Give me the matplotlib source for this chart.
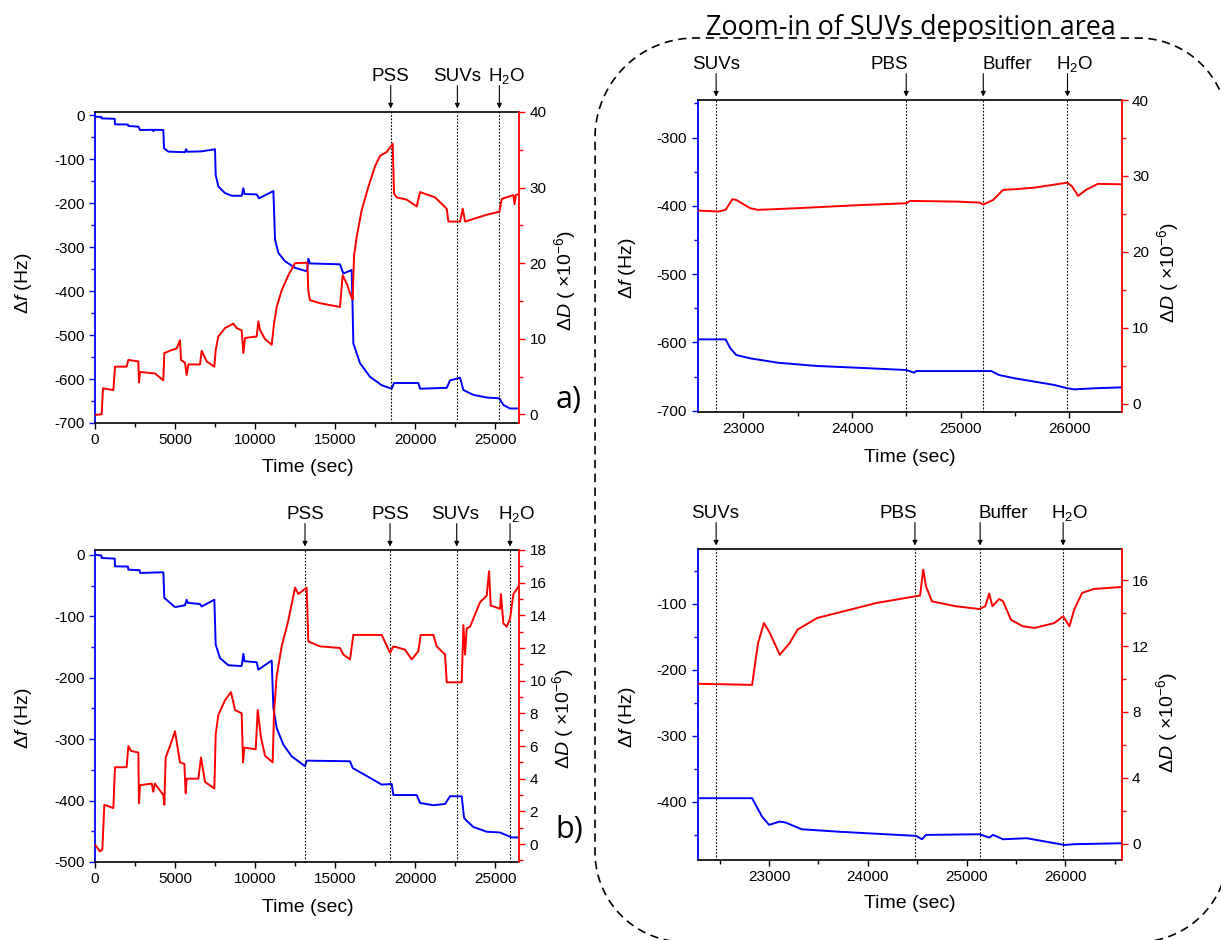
import numpy as np
import matplotlib.pyplot as plt
from matplotlib.ticker import MultipleLocator

plt.rcParams['font.family'] = ['Liberation Sans', 'DejaVu Sans']
plt.rcParams['mathtext.fontset'] = 'custom'
plt.rcParams['mathtext.rm'] = 'Liberation Sans'
plt.rcParams['mathtext.it'] = 'Liberation Sans:italic'
plt.rcParams['axes.unicode_minus'] = False

BLUE = '#0000ff'
RED = '#ff0000'

# ---- panel a) : full run, frequency (Hz) and dissipation (x1e-6)
a_t_f = [0, 400, 420, 1230, 1250, 2060, 2082, 2707, 2811, 3600, 3650, 3700, 4268, 4310, 4580,
         5620, 5690, 5760, 6662, 7495, 7537, 7703, 8120, 8536, 9160, 9265, 9330, 10098, 10240,
         11139, 11180, 11243, 11451, 11867, 12492, 13242, 13322, 13420, 15300, 15509, 16029,
         16080, 16133, 16550, 17174, 17903, 18528, 18673, 20193, 20297, 21963, 22171, 22796,
         23004, 23628, 24461, 25252, 25502, 25918, 26543]
a_f = [-3, -4, -7, -8, -20.5, -21, -24.3, -25.8, -33.4, -33, -36, -33, -33.4, -75, -82.6,
       -84, -77, -83, -82, -77.3, -135.6, -162, -177, -183, -183, -166, -179, -180, -189,
       -172.4, -215, -283, -313, -332, -347, -355, -326, -337, -339, -360, -352,
       -428, -519, -564, -595, -614, -622, -609, -609, -622, -620, -603, -597,
       -625, -636, -642, -644, -659, -667, -667]
a_t_d = [0, 416, 500, 1145, 1250, 1978, 2082, 2707, 2748, 2811, 3748, 4268, 4330, 4789, 5100,
         5309, 5370, 5621, 5725, 5830, 6558, 6662, 6975, 7453, 7537, 7703, 8120, 8640, 8850,
         9160, 9265, 9370, 10098, 10202, 10300, 10600, 11035, 11180, 11347, 11659, 12076,
         12492, 13260, 13322, 13420, 14051, 15300, 15467, 15717, 16029, 16092, 16175, 16342,
         16654, 17070, 17487, 17800, 18215, 18590, 18673, 18840, 19464, 20089, 20297, 21234,
         21963, 22067, 22796, 22962, 23108, 24461, 25252, 25398, 26127, 26200, 26280, 26543]
a_d = [-0.09, 0, 3.44, 3.2, 6.3, 6.3, 7.2, 7.0, 4.2, 5.6, 5.4, 4.5, 8.1, 8.5, 8.7,
       9.8, 7.2, 6.8, 5.2, 6.6, 6.6, 8.4, 7.0, 6.3, 8.5, 10.3, 11.4, 12.0, 11.4,
       11.1, 8.1, 10.1, 10.3, 12.3, 11.2, 10.0, 9.2, 12.0, 14.2, 16.4, 18.4,
       20.0, 20.05, 16.3, 15.1, 14.7, 14.2, 18.4, 17.3, 15.4, 15.2, 20.9, 23.5,
       27.0, 30.1, 32.8, 34.2, 34.7, 35.8, 29.2, 28.7, 28.4, 27.5, 29.4, 28.7,
       27.2, 25.5, 25.5, 27.2, 25.5, 26.4, 26.8, 28.5, 29.0, 27.8, 29.0, 29.2]
a_events = [18465, 22629, 25252]
a_labels = ['PSS', 'SUVs', 'H$_2$O']

# ---- panel b)
b_t_f = [0, 400, 416, 1230, 1250, 2060, 2082, 2790, 2811, 4268, 4330, 4997, 5621, 5725, 5790,
         6558, 6662, 7453, 7537, 7807, 8328, 9160, 9265, 9330, 10098, 10202, 11035, 11139,
         11347, 11763, 12284, 13114, 13218, 15925, 16092, 16966, 17903, 18528, 18632, 20089,
         20297, 21130, 21859, 22171, 22900, 23046, 23212, 23628, 24461, 25294, 26023, 26543]
b_f = [0.4, -1, -5, -6, -18.6, -19, -24, -25, -29.4, -28.3, -70, -85, -82, -73, -78,
       -80, -84, -73, -146, -168, -179.7, -181, -161, -173, -174.8, -186.8, -172, -249,
       -282, -309, -328, -344, -335, -336, -347, -360, -374, -373, -391, -391,
       -403.9, -407.6, -405.5, -393, -393, -428, -433, -443, -450.7, -452, -460, -460]
b_t_d = [0, 312, 458, 583, 1145, 1250, 1978, 2082, 2249, 2707, 2748, 2811, 3539, 3640, 3740,
         4268, 4330, 4414, 4685, 4997, 5309, 5580, 5663, 5725, 6454, 6621, 6871, 7453, 7537,
         7703, 8120, 8494, 8744, 9160, 9244, 9330, 10035, 10160, 10368, 10618, 11097, 11180,
         11347, 11659, 12076, 12492, 12700, 13218, 13322, 14051, 15300, 15509, 15925, 16133,
         17903, 18424, 18632, 19360, 19776, 20193, 20339, 21130, 21338, 21859, 21963, 22900,
         23004, 23108, 23212, 23420, 24045, 24461, 24607, 24711, 25294, 25350, 25502, 25710,
         25918, 26127, 26543]
b_d = [-0.04, -0.45, -0.35, 2.4, 2.2, 4.7, 4.7, 6.0, 5.7, 5.6, 2.5, 3.6, 3.7, 3.2, 3.7,
       3.0, 2.4, 5.3, 6.0, 6.9, 5.0, 4.9, 3.1, 4.0, 4.0, 5.3, 3.8, 3.4, 6.7,
       7.9, 8.8, 9.3, 8.2, 8.0, 5.0, 5.9, 5.8, 8.2, 6.5, 5.4, 5.0, 8.1,
       10.3, 12.1, 13.7, 15.7, 15.3, 15.7, 12.4, 12.1, 12.0, 11.6, 11.3, 12.8,
       12.8, 11.7, 12.1, 11.9, 11.3, 11.8, 12.8, 12.8, 12.1, 11.6, 9.9, 9.9,
       13.4, 11.6, 13.2, 13.3, 14.8, 15.2, 16.7, 14.6, 14.4, 15.3, 13.5, 13.3,
       13.8, 15.3, 15.9]
b_events = [13114, 18424, 22587, 25918]
b_labels = ['PSS', 'PSS', 'SUVs', 'H$_2$O']

# ---- panel c) : zoom of a)
c_t_f = [22578, 22836, 22880, 22934, 23062, 23316, 23680, 24043, 24498, 24571, 24589, 25280,
         25352, 25498, 25861, 25981, 26043, 26225, 26480]
c_f = [-595.6, -595.6, -608.8, -618.5, -623.4, -629.8, -634.6, -637.1, -640.5, -644.4, -642,
       -642, -647.8, -652.7, -662.4, -667.3, -668.8, -667.3, -665.9]
c_t_d = [22578, 22771, 22836, 22898, 22934, 23062, 23134, 23498, 24043, 24498, 24534, 24952,
         25170, 25207, 25298, 25389, 25498, 25680, 25981, 26025, 26080, 26152, 26261, 26480]
c_d = [25.44, 25.31, 25.53, 26.93, 26.84, 25.75, 25.53, 25.75, 26.14, 26.4, 26.71, 26.62,
       26.49, 26.23, 26.84, 28.16, 28.25, 28.46, 29.12, 28.6, 27.37, 28.16, 28.95, 28.9]
c_events = [22749, 24498, 25207, 25982]
c_labels = ['SUVs', 'PBS', 'Buffer', 'H$_2$O']

# ---- panel d) : zoom of b)
d_t_f = [22276, 22828, 22928, 23000, 23108, 23168, 23328, 23688, 24488, 24548, 24588, 25128,
         25228, 25268, 25368, 25608, 25988, 26088, 26568]
d_f = [-394.4, -394.4, -422.2, -434.8, -429.8, -431.3, -441.4, -445, -451.5, -456.6, -450,
       -449, -454, -450, -456.6, -455, -465.2, -464.1, -462.6]
d_t_d = [22276, 22828, 22888, 22948, 23008, 23108, 23208, 23288, 23488, 23688, 24088, 24488,
         24528, 24560, 24588, 24648, 24888, 25128, 25188, 25228, 25260, 25328, 25368, 25448,
         25568, 25688, 25888, 25976, 26040, 26088, 26168, 26288, 26568]
d_d = [9.71, 9.64, 12.18, 13.4, 12.79, 11.47, 12.18, 13.0, 13.71, 14.01, 14.62, 15.03,
       15.07, 16.65, 15.63, 14.72, 14.42, 14.25, 14.42, 15.19, 14.42, 14.86, 14.72, 13.6,
       13.2, 13.1, 13.4, 13.81, 13.2, 14.21, 15.23, 15.47, 15.59]
d_events = [22464, 24476, 25136, 25976]
d_labels = ['SUVs', 'PBS', 'Buffer', 'H$_2$O']

panels = [
    dict(rect=[0.0778, 0.550, 0.3473, 0.3309], tf=a_t_f, f=a_f, td=a_t_d, d=a_d,
         xlim=(0, 26480), flim=(-700, 7.6), dlim=(-1.15, 40),
         xmaj=5000, xmin=2500, fmaj=100, fmin=50, dmaj=10, dmin=5,
         ev=a_events, lab=a_labels, dx=[0, 0, 5]),
    dict(rect=[0.0778, 0.083, 0.3473, 0.3319], tf=b_t_f, f=b_f, td=b_t_d, d=b_d,
         xlim=(0, 26480), flim=(-500, 8), dlim=(-1.1, 18),
         xmaj=5000, xmin=2500, fmaj=100, fmin=50, dmaj=2, dmin=1,
         ev=b_events, lab=b_labels, dx=[0, 0, -1, 5]),
    dict(rect=[0.5713, 0.5617, 0.3473, 0.3319], tf=c_t_f, f=c_f, td=c_t_d, d=c_d,
         xlim=(22578, 26480), flim=(-702, -245), dlim=(-1.1, 40),
         xmaj=1000, xmin=500, fmaj=100, fmin=50, dmaj=10, dmin=5,
         ev=c_events, lab=c_labels, dx=[0, -12, 17, 5]),
    dict(rect=[0.5713, 0.0851, 0.3473, 0.3309], tf=d_t_f, f=d_f, td=d_t_d, d=d_d,
         xlim=(22276, 26568), flim=(-488, -17), dlim=(-1.0, 17.9),
         xmaj=1000, xmin=500, fmaj=100, fmin=50, dmaj=4, dmin=2,
         ev=d_events, lab=d_labels, dx=[-1, -12, 17, 5]),
]

fig = plt.figure(figsize=(12.21, 9.40), dpi=100)

# overlay in pixel coordinates for the dashed frame and free texts
ov = fig.add_axes([0, 0, 1, 1], zorder=-1)
ov.set_xlim(0, 1221)
ov.set_ylim(940, 0)
ov.axis('off')


def arc(cx, cy, r, a0, a1):
    ang = np.radians(np.linspace(a0, a1, 40))
    return cx + r * np.cos(ang), cy - r * np.sin(ang)


# dashed rounded frame (right edge runs off the canvas, so it is left out)
x0, x1, y0, y1 = 595, 1228, 38, 942
parts = [arc(x1 - 90, y1 - 90, 90, 0, -90),
         arc(x0 + 90, y1 - 90, 90, -90, -180),
         arc(x0 + 100, y0 + 100, 100, 180, 90),
         arc(x1 - 90, y0 + 90, 90, 90, 0)]
fx = np.concatenate([p[0] for p in parts])
fy = np.concatenate([p[1] for p in parts])
ov.plot(fx, fy, color='k', lw=1.2, ls=(0, (5, 3.3)))

ov.text(911, 35, 'Zoom-in of SUVs deposition area', ha='center', va='baseline',
        fontsize=19.4, family='Open Sans')
ov.text(569, 400, 'a)', ha='center', va='center', fontsize=22, family='Open Sans')
ov.text(569, 830, 'b)', ha='center', va='center', fontsize=22, family='Open Sans')

ylab_l = [(24, 283), (24, 718), (628, 268), (628, 717)]
ylab_r = [(565, 280), (563, 718), (1168, 272), (1167, 722)]
xlab = [(308, 468), (308, 907), (910, 458), (910, 903)]

for i, p in enumerate(panels):
    ax = fig.add_axes(p['rect'])
    ax2 = ax.twinx()
    ax.plot(p['tf'], p['f'], color=BLUE, lw=1.4)
    ax2.plot(p['td'], p['d'], color=RED, lw=1.4)
    ax.set_xlim(*p['xlim'])
    ax.set_ylim(*p['flim'])
    ax2.set_ylim(*p['dlim'])

    ax.xaxis.set_major_locator(MultipleLocator(p['xmaj']))
    ax.xaxis.set_minor_locator(MultipleLocator(p['xmin']))
    ax.yaxis.set_major_locator(MultipleLocator(p['fmaj']))
    ax.yaxis.set_minor_locator(MultipleLocator(p['fmin']))
    ax2.yaxis.set_major_locator(MultipleLocator(p['dmaj']))
    ax2.yaxis.set_minor_locator(MultipleLocator(p['dmin']))

    for s in ['top', 'bottom']:
        ax.spines[s].set_color('k')
        ax.spines[s].set_linewidth(1.2)
    ax.spines['left'].set_color(BLUE)
    ax.spines['left'].set_linewidth(1.3)
    ax.spines['right'].set_visible(False)
    ax2.spines['right'].set_color(RED)
    ax2.spines['right'].set_linewidth(1.3)
    for s in ['left', 'top', 'bottom']:
        ax2.spines[s].set_visible(False)

    ax.tick_params(axis='x', which='both', direction='out', top=False, labelsize=11,
                   width=1, colors='k')
    ax.tick_params(axis='x', which='major', length=4)
    ax.tick_params(axis='x', which='minor', length=3)
    ax.tick_params(axis='y', which='both', direction='out', color=BLUE, width=1,
                   labelsize=11, labelcolor='k')
    ax.tick_params(axis='y', which='major', length=4)
    ax.tick_params(axis='y', which='minor', length=3)
    ax2.tick_params(axis='y', which='both', direction='out', color=RED, width=1,
                    labelsize=11, labelcolor='k')
    ax2.tick_params(axis='y', which='major', length=4)
    ax2.tick_params(axis='y', which='minor', length=3)

    for t, lab, dx in zip(p['ev'], p['lab'], p['dx']):
        ax.axvline(t, color='k', lw=0.8, ls=(0, (1.5, 1.5)), zorder=3)
        ax.annotate('', xy=(t, 1.0), xycoords=('data', 'axes fraction'),
                    xytext=(0, 19), textcoords='offset points',
                    arrowprops=dict(arrowstyle='-|>', color='k', lw=0.8,
                                    mutation_scale=7, shrinkA=0, shrinkB=2.5),
                    annotation_clip=False)
        ax.annotate(lab, xy=(t, 1.0), xycoords=('data', 'axes fraction'),
                    xytext=(dx, 22), textcoords='offset points',
                    ha='center', va='baseline', fontsize=13.5, annotation_clip=False)

    ov.text(*ylab_l[i], r'$\Delta\mathit{f}$ (Hz)', rotation=90, ha='center', va='center',
            fontsize=14)
    ov.text(*ylab_r[i], r'$\Delta\mathit{D}$ ( $\times$10$^{-6}$)', rotation=90,
            ha='center', va='center', fontsize=14)
    ov.text(*xlab[i], 'Time (sec)', ha='center', va='center', fontsize=14)

fig.savefig('out.png', dpi=100)
